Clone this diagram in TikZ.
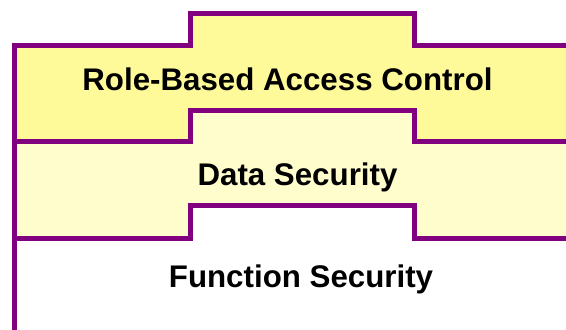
\documentclass[tikz,border=0pt]{standalone}
\usepackage{fontspec}
\setmainfont{Liberation Sans}
\definecolor{edgepurple}{HTML}{800080}
\definecolor{topfill}{HTML}{FFFA99}
\definecolor{midfill}{HTML}{FFFDCC}
\tikzset{
  layerline/.style={draw=edgepurple, line width=5bp, line join=miter, line cap=rect},
  layerlabel/.style={anchor=base, inner sep=0pt, font=\fontsize{31.4}{36}\selectfont\bfseries}
}
\begin{document}
\begin{tikzpicture}[x=1bp,y=-1bp]
\useasboundingbox (0,0) rectangle (566,329);
\clip (0,0) rectangle (566,329);
\fill[white] (0,0) rectangle (566,329);
% top layer fill
\fill[topfill] (14,45) -- (190,45) -- (190,13) -- (414,13) -- (414,45) -- (580,45)
  -- (580,141) -- (414,141) -- (414,110) -- (190,110) -- (190,141) -- (14,141) -- cycle;
% middle layer fill
\fill[midfill] (14,141) -- (190,141) -- (190,110) -- (414,110) -- (414,141) -- (580,141)
  -- (580,238) -- (414,238) -- (414,205) -- (190,205) -- (190,238) -- (14,238) -- cycle;
% outlines
\draw[layerline] (14,340) -- (14,45) -- (190,45) -- (190,13) -- (414,13) -- (414,45) -- (580,45);
\draw[layerline] (14,141) -- (190,141) -- (190,110) -- (414,110) -- (414,141) -- (580,141);
\draw[layerline] (14,238) -- (190,238) -- (190,205) -- (414,205) -- (414,238) -- (580,238);
% labels
\node[layerlabel] (rbac) at (287.5,90) {Role-Based Access Control};
\node[layerlabel] (data) at (297.5,185) {Data Security};
\node[layerlabel] (func) at (301,287) {Function Security};
\end{tikzpicture}
\end{document}
